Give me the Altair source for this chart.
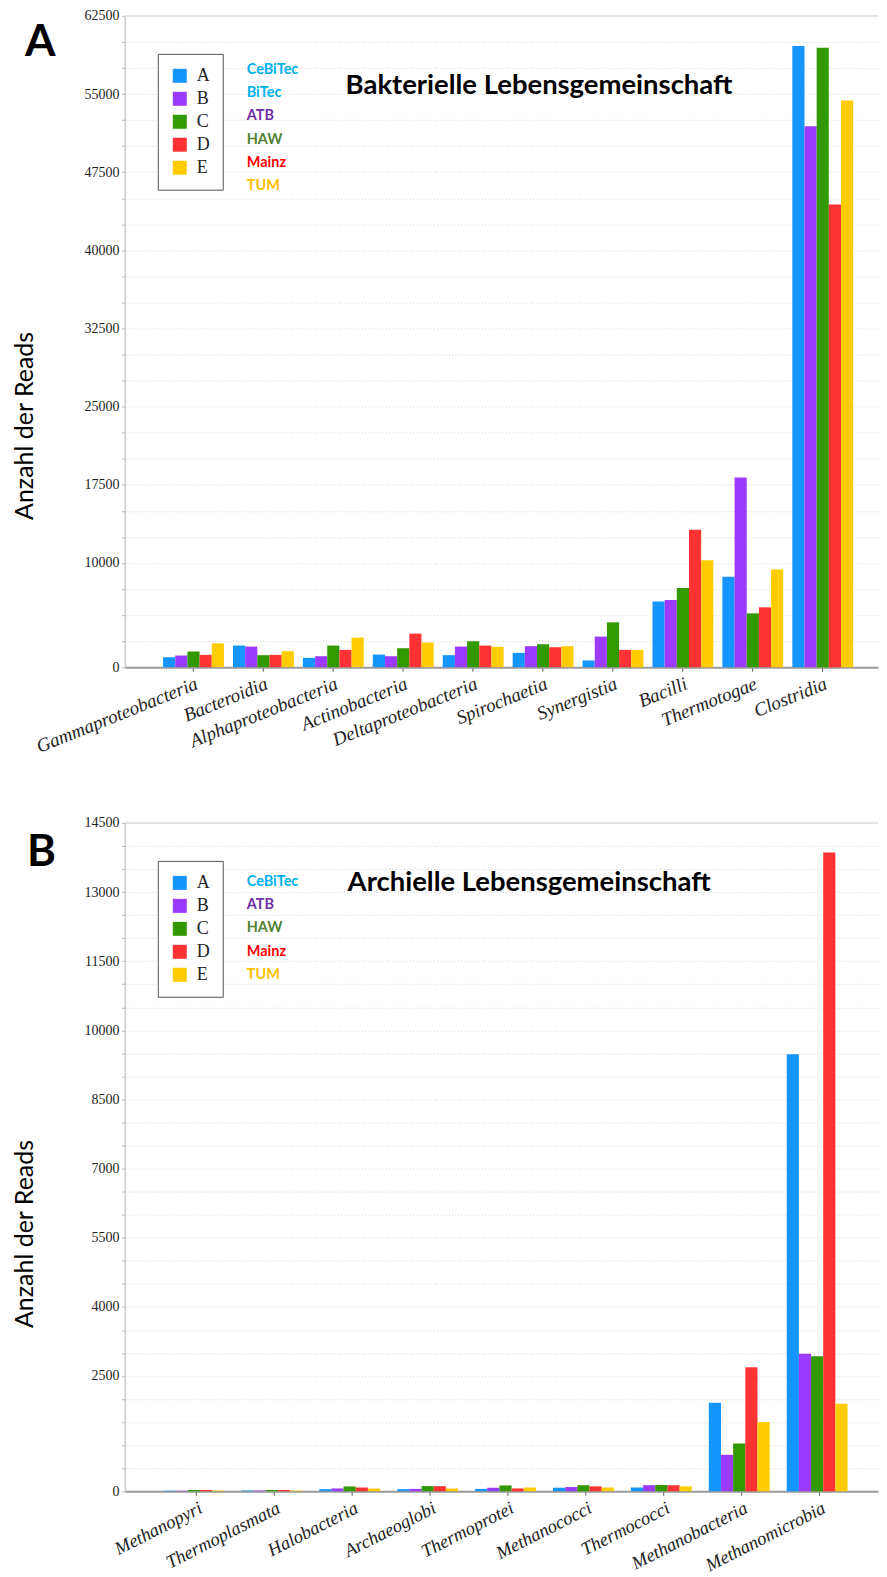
import altair as alt
import pandas as pd

groups = ["A", "B", "C", "D", "E"]
bar_colors = ["#1495ff", "#9b3bff", "#339900", "#ff3333", "#ffcc00"]

# Panel A: Bakterielle Lebensgemeinschaft
bact_categories = ["Gammaproteobacteria", "Bacteroidia", "Alphaproteobacteria", "Actinobacteria",
                   "Deltaproteobacteria", "Spirochaetia", "Synergistia", "Bacilli", "Thermotogae", "Clostridia"]
bact_A = [950, 2070, 890, 1210, 1150, 1370, 640, 6310, 8670, 59600]
bact_B = [1115, 1975, 1050, 1050, 1975, 2010, 2930, 6440, 18200, 51900]
bact_C = [1500, 1150, 2070, 1815, 2485, 2200, 4300, 7590, 5160, 59450]
bact_D = [1180, 1180, 1655, 3220, 2070, 1910, 1655, 13180, 5740, 44400]
bact_E = [2290, 1530, 2835, 2360, 1950, 2010, 1655, 10260, 9370, 54380]
bact_ytick_labels = [0, 10000, 17500, 25000, 32500, 40000, 47500, 55000, 62500]
bact_sites = ["CeBiTec", "BiTec", "ATB", "HAW", "Mainz", "TUM"]
bact_site_colors = ["#00b0f0", "#00b0f0", "#7030a0", "#538135", "#ff0000", "#ffc000"]

# Panel B: Archielle Lebensgemeinschaft
arch_categories = ["Methanopyri", "Thermoplasmata", "Halobacteria", "Archaeoglobi", "Thermoprotei",
                   "Methanococci", "Thermococci", "Methanobacteria", "Methanomicrobia"]
arch_A = [10, 15, 44, 44, 50, 75, 80, 1920, 9480]
arch_B = [10, 15, 60, 50, 75, 90, 130, 790, 2980]
arch_C = [25, 25, 103, 110, 125, 130, 135, 1035, 2930]
arch_D = [25, 25, 80, 110, 60, 105, 130, 2690, 13860]
arch_E = [15, 15, 60, 60, 80, 80, 105, 1500, 1900]
arch_ytick_labels = [0, 2500, 4000, 5500, 7000, 8500, 10000, 11500, 13000, 14500]
arch_sites = ["CeBiTec", "ATB", "HAW", "Mainz", "TUM"]
arch_site_colors = ["#00b0f0", "#7030a0", "#538135", "#ff0000", "#ffc000"]

W = 754
one = pd.DataFrame({"k": [0]})


def panel(cats, series, ymax, tick_labels, grid_step, height, sites, site_colors,
          title, letter, p_inner, p_outer, align, site_y0, title_xy, letter_xy,
          anchor_top, anchor_bottom, title_y, label_angle, label_size):
    rows = []
    for g, vals in zip(groups, series):
        for c, v in zip(cats, vals):
            rows.append({"category": c, "group": g, "value": v})
    df = pd.DataFrame(rows)
    grid_vals = list(range(0, ymax + 1, grid_step))
    label_expr = ("indexof([" + ",".join(str(v) for v in tick_labels) +
                  "], datum.value) >= 0 ? datum.label : ''")

    x = alt.X("category:N", sort=cats,
              scale=alt.Scale(paddingInner=p_inner, paddingOuter=p_outer, align=align),
              axis=alt.Axis(title=None, labelAngle=label_angle, labelFont="Liberation Serif",
                            labelFontStyle="italic", labelFontSize=label_size, labelColor="#222",
                            labelAlign="right", labelBaseline="top", labelPadding=3,
                            labelLimit=400, labelOverlap=False, tickSize=4, tickColor="#555",
                            domainColor="#9a9a9a", domainWidth=2, grid=False))
    y = alt.Y("value:Q", scale=alt.Scale(domain=[0, ymax], nice=False, zero=True),
              axis=alt.Axis(values=grid_vals, labelExpr=label_expr, format="d",
                            title="Anzahl der Reads", titleFont="Lato", titleFontSize=25,
                            titleFontWeight="normal", titleColor="#000", titleX=-92,
                            titleY=title_y, titleAngle=-90, titleBaseline="alphabetic",
                            titleAlign="center", labelFont="Liberation Serif", labelFontSize=14,
                            labelColor="#222", labelOverlap=False, labelPadding=3,
                            tickSize=3, tickColor="#aaaaaa", domainColor="#cccccc",
                            domainWidth=1.5, grid=True, gridColor="#d4d4d4",
                            gridDash=[1, 2], gridWidth=1))

    bars = alt.Chart(df).mark_bar().encode(
        x=x,
        xOffset=alt.XOffset("group:N", sort=groups,
                            scale=alt.Scale(paddingInner=0, paddingOuter=0)),
        y=y,
        color=alt.Color("group:N", scale=alt.Scale(domain=groups, range=bar_colors),
                        legend=alt.Legend(title=None, orient="none", legendX=33, legendY=38,
                                          strokeColor="#555", fillColor="white", padding=13,
                                          symbolType="square", symbolSize=196,
                                          symbolStrokeWidth=0, symbolOpacity=1,
                                          labelFont="Liberation Serif", labelFontSize=18,
                                          labelColor="#222", rowPadding=5, labelOffset=8)),
    )

    top_line = alt.Chart(one).mark_rule(color="#e2e2e2", strokeWidth=2).encode(
        x=alt.value(0), x2=alt.value(W), y=alt.value(0))
    anchor = alt.Chart(one).mark_rule(opacity=0).encode(
        x=alt.value(-117), y=alt.value(anchor_top), y2=alt.value(anchor_bottom))
    letter_mark = alt.Chart(one).mark_text(
        text=letter, font="Lato", fontWeight="bold", fontSize=44, align="left",
        baseline="alphabetic", color="#000").encode(
        x=alt.value(letter_xy[0]), y=alt.value(letter_xy[1]))
    title_mark = alt.Chart(one).mark_text(
        text=title, font="Lato", fontWeight="bold", fontSize=27.5, align="left",
        baseline="alphabetic", color="#000").encode(
        x=alt.value(title_xy[0]), y=alt.value(title_xy[1]))

    sdf = pd.DataFrame({"site": sites, "col": site_colors, "i": list(range(len(sites)))})
    site_text = alt.Chart(sdf).transform_calculate(
        py=f"{site_y0} + datum.i * 23.35").mark_text(
        align="left", baseline="middle", font="Lato", fontWeight="bold", fontSize=14.5).encode(
        x=alt.value(122),
        y=alt.Y("py:Q", scale=None, axis=None),
        text="site:N",
        color=alt.Color("col:N", scale=None, legend=None),
    )

    return alt.layer(bars, top_line, anchor, letter_mark, title_mark, site_text).properties(
        width=W, height=height)


chart_a = panel(bact_categories, [bact_A, bact_B, bact_C, bact_D, bact_E], 62500,
                bact_ytick_labels, 2500, 652, bact_sites, bact_site_colors,
                "Bakterielle Lebensgemeinschaft", "A", 0.13, 0.451, 0.606, 54,
                (221, 78), (-100, 40), -7, 770, 410, -22, 19)
chart_b = panel(arch_categories, [arch_A, arch_B, arch_C, arch_D, arch_E], 14500,
                arch_ytick_labels, 500, 669, arch_sites, arch_site_colors,
                "Archielle Lebensgemeinschaft", "B", 0.145, 0.406, 0.61, 58.7,
                (223, 68), (-98, 43), -30, 0, 411, -27, 18.5)

chart = alt.vconcat(chart_a, chart_b, spacing=8).resolve_scale(
    color="independent", x="independent", y="independent").resolve_legend(
    color="independent").properties(padding=0).configure_view(stroke=None)

chart.save("out.html", embed_options={"renderer": "svg", "actions": False})
